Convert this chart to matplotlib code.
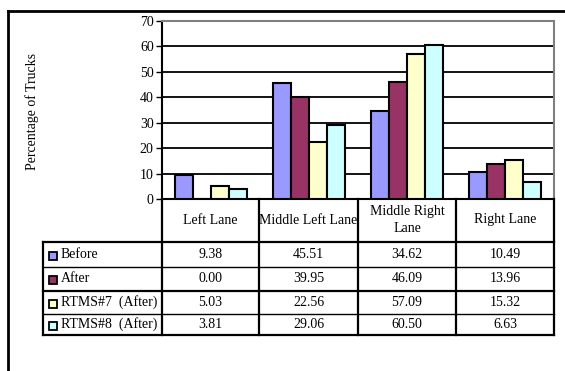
import numpy as np
import matplotlib.pyplot as plt
from matplotlib.lines import Line2D
from matplotlib.patches import Rectangle

# lane categories and truck shares (%)
lanes = ['Left Lane', 'Middle Left Lane', 'Middle Right\nLane', 'Right Lane']
series = ['Before', 'After', 'RTMS#7  (After)', 'RTMS#8  (After)']
before = [9.38, 45.51, 34.62, 10.49]
after = [0.00, 39.95, 46.09, 13.96]
rtms7 = [5.03, 22.56, 57.09, 15.32]
rtms8 = [3.81, 29.06, 60.50, 6.63]
colors = ['#9999FF', '#993366', '#FFFFCC', '#CCFFFF']
yticks = [0, 10, 20, 30, 40, 50, 60, 70]

W, H = 565, 371
FS = 10
plt.rcParams['font.family'] = ['Liberation Serif', 'DejaVu Serif']
fig = plt.figure(figsize=(W / 100, H / 100), dpi=100)


def box(x0, y0, x1, y1):
    # pixel box (top-left origin) -> figure fraction rect
    return [x0 / W, 1 - y1 / H, (x1 - x0) / W, (y1 - y0) / H]


# outer chart frame
fig.add_artist(Line2D([8 / W, 1], [1 - 11 / H, 1 - 11 / H], color='black', lw=2))
fig.add_artist(Line2D([8 / W, 8 / W], [1 - 11 / H, 0], color='black', lw=2))

# bar chart
ax = fig.add_axes(box(162, 21, 554, 199))
data = [before, after, rtms7, rtms8]
x = np.arange(len(lanes))
offsets = [-0.275, -0.092, 0.092, 0.275]
for vals, off, c in zip(data, offsets, colors):
    ax.bar(x + off, vals, width=0.184, color=c, edgecolor='black', linewidth=1.5, zorder=3)

ax.set_xlim(-0.5, 3.5)
ax.set_ylim(0, 70)
ax.set_yticks(yticks)
ax.tick_params(axis='y', labelsize=FS, length=4, width=1, pad=2)
ax.set_xticks([])
for t in yticks[1:-1]:
    ax.axhline(t, color='black', lw=1.3, zorder=1)
for s in ['top', 'right']:
    ax.spines[s].set_color('#808080')
    ax.spines[s].set_linewidth(1.5)
for s in ['left', 'bottom']:
    ax.spines[s].set_color('black')
    ax.spines[s].set_linewidth(1.5)
fig.text(32 / W, 1 - 111 / H, 'Percentage of Trucks', rotation=90,
         ha='center', va='center', fontsize=FS)

# data table under the chart
tax = fig.add_axes([0, 0, 1, 1])
tax.set_xlim(0, W)
tax.set_ylim(H, 0)
tax.axis('off')

cols = [162, 259, 358, 456, 554]
rows = [242, 267, 291, 314, 335]
lw = 1.6
# header cells
for xc in cols:
    tax.plot([xc, xc], [199, 335], color='black', lw=lw)
tax.plot([162, 554], [242, 242], color='black', lw=lw)
tax.plot([43, 554], [335, 335], color='black', lw=lw)
tax.plot([43, 43], [242, 335], color='black', lw=lw)
tax.plot([43, 162], [242, 242], color='black', lw=lw)
tax.plot([43, 554], [267, 267], color='black', lw=1)
tax.plot([43, 554], [291, 291], color='black', lw=1.6)
tax.plot([43, 554], [314, 314], color='black', lw=1)

for i, name in enumerate(lanes):
    xc = (cols[i] + cols[i + 1]) / 2
    tax.text(xc, 220, name, ha='center', va='center', fontsize=FS, linespacing=1.35)

for r, (name, vals, c) in enumerate(zip(series, data, colors)):
    yc = (rows[r] + rows[r + 1]) / 2
    tax.add_patch(Rectangle((49, yc - 3), 8, 8, facecolor=c, edgecolor='black', lw=1.3))
    tax.text(61, yc, name, ha='left', va='center', fontsize=FS)
    for i, v in enumerate(vals):
        xc = (cols[i] + cols[i + 1]) / 2
        tax.text(xc, yc, f'{v:.2f}', ha='center', va='center', fontsize=FS)

fig.savefig('out.png', dpi=100)
